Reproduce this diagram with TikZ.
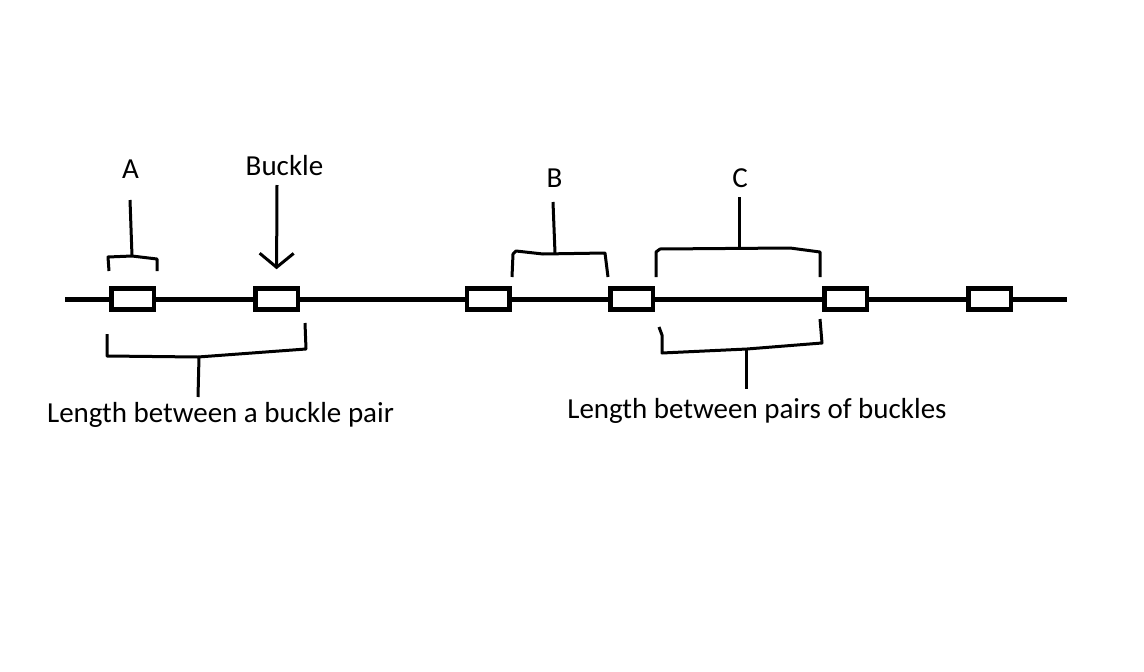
\documentclass[tikz,border=0pt]{standalone}
\usepackage{fontspec}
\setmainfont{Carlito}
\usepackage{tikz}
\usetikzlibrary{arrows,arrows.meta,shapes}

\begin{document}
\begin{tikzpicture}[x=1pt,y=-1pt]

		\tikzstyle{edge} = [draw,-,line width=3pt,line join=round]
		\tikzstyle{belt} = [draw,-,line width=5pt]
		\tikzset{tag/.style = {anchor=base,inner sep=0pt,font=\fontsize{29}{33}\selectfont}}

		\fill[white] (0,0) rectangle (1144,672);
		\useasboundingbox (0,0) rectangle (1144,672);

		\tikzset{vertex/.style = {shape=rectangle,draw,fill=white,line width=4.5pt,minimum width=42.5pt,minimum height=21pt,inner sep=0pt}}
		\node[vertex] (b1) at (132.5,299) {};
		\node[vertex] (b2) at (276.5,299) {};
		\node[vertex] (b3) at (488,299) {};
		\node[vertex] (b4) at (631.5,299) {};
		\node[vertex] (b5) at (845.5,299) {};
		\node[vertex] (b6) at (989.5,299) {};
		\coordinate (lend) at (65,299);
		\coordinate (rend) at (1067,299);

		\draw[belt] (lend) -- (b1) -- (b2) -- (b3) -- (b4) -- (b5) -- (b6) -- (rend);

		\node[tag] (A) at (130.5,178) {A};
		\node[tag] (buckle) at (284.5,175) {Buckle};
		\node[tag] (B) at (554.5,187) {B};
		\node[tag] (C) at (740,187) {C};
		\node[tag] (pair) at (220.5,422) {Length between a buckle pair};
		\node[tag] (pairs) at (757,418) {Length between pairs of buckles};

		% brackets
		\draw[edge] (109,271) -- (108,257) -- (132,256) -- (157,259) -- (157,271);
		\draw[edge] (107,334) -- (107,356) -- (198,357) -- (306,349) -- (305,323);
		\draw[edge] (512,277) -- (513,254) -- (516,251) -- (543,254) -- (605,253) -- (608,277);
		\draw[edge] (656,277) -- (656,252) -- (660,249) -- (790,248) -- (820,252) -- (820,277);
		\draw[edge] (659,327) -- (662,335) -- (662,353) -- (747,349) -- (822,343) -- (820,319);

		% stems
		\coordinate (Atop) at (130,200);
		\coordinate (Abot) at (132,256);
		\coordinate (bktop) at (277,185);
		\coordinate (Btop) at (553,202);
		\coordinate (Bbot) at (555,253);
		\coordinate (Ctop) at (739,197);
		\coordinate (Cbot) at (739,249);
		\coordinate (pairtop) at (199,357);
		\coordinate (pairbot) at (198,397);
		\coordinate (pairstop) at (746,350);
		\coordinate (pairsbot) at (746,389);

		\draw[edge] (Atop) to (Abot);
		\draw[edge] (Btop) to (Bbot);
		\draw[edge] (Ctop) to (Cbot);
		\draw[edge] (pairtop) to (pairbot);
		\draw[edge] (pairstop) to (pairsbot);
		\draw[edge, -{Straight Barb[length=14pt,width=34pt]}, shorten >=17pt] (bktop) to (b2.north);
\end{tikzpicture}
\end{document}
